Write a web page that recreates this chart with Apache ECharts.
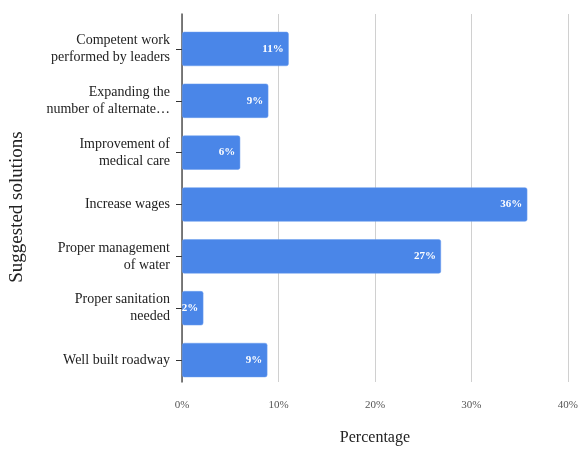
<!DOCTYPE html>
<html>
<head>
<meta charset="utf-8">
<script src="https://cdn.jsdelivr.net/npm/echarts@6/dist/echarts.min.js"></script>
<style>html,body{margin:0;padding:0;background:#fff}#c{width:581px;height:451px}</style>
</head>
<body>
<div id="c"></div>
<script>
const categories = [
  "Competent work\nperformed by leaders",
  "Expanding the\nnumber of alternate…",
  "Improvement of\nmedical care",
  "Increase wages",
  "Proper management\nof water",
  "Proper sanitation\nneeded",
  "Well built roadway"
];
const values = [11.0, 8.9, 6.0, 35.6, 26.7, 2.2, 8.8];
const xTicks = [0, 10, 20, 30, 40];
const xTitle = "Percentage";
const yTitle = "Suggested solutions";

const FONT = "Liberation Serif";
const chart = echarts.init(document.getElementById('c'), null, {renderer: 'canvas'});
chart.setOption({
  animation: false,
  textStyle: {fontFamily: FONT},
  grid: [
    {left: 182, right: 11, top: 14, bottom: 58},
    {left: 182, right: 11, top: 23, bottom: 65}
  ],
  xAxis: [
    {gridIndex: 0, type: 'value', min: xTicks[0], max: xTicks[xTicks.length-1], interval: 10,
     axisLine: {show: false}, axisTick: {show: false},
     splitLine: {show: true, lineStyle: {color: '#d0d0d0', width: 1}},
     axisLabel: {formatter: v => v + '%', color: '#555', fontSize: 11, fontFamily: FONT, margin: 18},
     name: xTitle, nameLocation: 'middle', nameGap: 48,
     nameTextStyle: {fontSize: 16, color: '#222', fontFamily: FONT}},
    {gridIndex: 1, type: 'value', min: xTicks[0], max: xTicks[xTicks.length-1], interval: 10,
     show: false}
  ],
  yAxis: [
    {gridIndex: 0, type: 'category', data: categories, inverse: true,
     axisLine: {show: true, lineStyle: {color: '#555', width: 1.5}},
     axisTick: {show: false}, axisLabel: {show: false}, splitLine: {show: false},
     name: yTitle, nameLocation: 'middle', nameGap: 155, nameRotate: 90,
     nameTextStyle: {fontSize: 19, color: '#222', fontFamily: FONT, padding: [0, 18, 0, 0]}},
    {gridIndex: 1, type: 'category', data: categories, inverse: true,
     axisLine: {show: false},
     axisTick: {show: true, alignWithLabel: true, length: 6, lineStyle: {color: '#333'}},
     axisLabel: {color: '#222', fontSize: 14, fontFamily: FONT, lineHeight: 17, margin: 12, align: 'right', padding: [6, 0, 0, 0]},
     splitLine: {show: false}}
  ],
  series: [{
    type: 'bar', xAxisIndex: 1, yAxisIndex: 1, data: values,
    barCategoryGap: '34%',
    itemStyle: {color: '#4a86e8', borderRadius: 2, borderColor: '#6a9cee', borderWidth: 0.5},
    label: {show: true, position: 'insideRight', distance: 5,
      formatter: p => Math.round(p.value) + '%',
      color: '#fff', fontWeight: 'bold', fontSize: 11, fontFamily: FONT}
  }]
});
</script>
</body>
</html>
